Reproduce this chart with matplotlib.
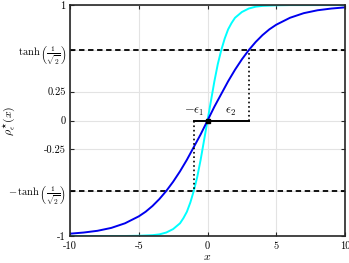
import matplotlib
matplotlib.use("Agg")
import matplotlib.pyplot as plt
import numpy as np

plt.rcParams["font.family"] = "cmr10"
plt.rcParams["mathtext.fontset"] = "cm"
plt.rcParams["axes.unicode_minus"] = False
plt.rcParams["axes.formatter.use_mathtext"] = True

# values
blue_x = [-10, -9, -8, -7, -6, -5, -4.5, -4, -3.5, -3, -2.5, -2, -1.5, -1, -0.5,
          0, 0.5, 1, 1.5, 2, 2.5, 3, 3.5, 4, 4.5, 5, 6, 7, 8, 9, 10]
blue_y = [-0.98, -0.97, -0.955, -0.93, -0.89, -0.83, -0.79, -0.74, -0.68, -0.61, -0.53, -0.44, -0.34, -0.23, -0.12,
          0, 0.12, 0.23, 0.34, 0.44, 0.53, 0.61, 0.68, 0.74, 0.79, 0.83, 0.89, 0.93, 0.955, 0.97, 0.98]

cyan_x = [-10, -8, -6, -5, -4, -3.5, -3, -2.5, -2, -1.75, -1.5, -1.25, -1, -0.75, -0.5, -0.25,
          0, 0.25, 0.5, 0.75, 1, 1.25, 1.5, 1.75, 2, 2.5, 3, 3.5, 4, 5, 6, 8, 10]
cyan_y = [-1.0, -1.0, -1.0, -0.998, -0.993, -0.986, -0.97, -0.94, -0.89, -0.845, -0.79, -0.71, -0.61, -0.49, -0.34, -0.17,
          0, 0.17, 0.34, 0.49, 0.61, 0.71, 0.79, 0.845, 0.89, 0.94, 0.97, 0.986, 0.993, 0.998, 1.0, 1.0, 1.0]

level = 0.6089  # tanh(1/sqrt(2))
eps1 = 1.0
eps2 = 3.0

x_ticks = [-10, -5, 0, 5, 10]
x_labels = ["-10", "-5", "0", "5", "10"]
y_ticks = [-1, -level, -0.25, 0, 0.25, level, 1]
y_labels = ["-1", r"$-\,\tanh\left(\frac{1}{\sqrt{2}}\right)$", "-0.25", "0", "0.25",
            r"$\tanh\left(\frac{1}{\sqrt{2}}\right)$", "1"]

fig = plt.figure(figsize=(3.49, 2.63), dpi=100)
ax = fig.add_axes([0.2006, 0.1027, 0.788, 0.878])

ax.grid(True, color="#e3e3e3", lw=0.8)
ax.set_axisbelow(True)

ax.axhline(level, color="k", ls=(0, (3, 2)), lw=1.3)
ax.axhline(-level, color="k", ls=(0, (3, 2)), lw=1.3)

ax.plot(cyan_x, cyan_y, color="cyan", lw=1.4)
ax.plot(blue_x, blue_y, color="#0000ee", lw=1.4)

ax.plot([-eps1, eps2], [0, 0], color="k", lw=1.4)
ax.plot([-eps1, -eps1], [0, -level], color="k", ls=":", lw=1.2)
ax.plot([eps2, eps2], [0, level], color="k", ls=":", lw=1.2)
ax.plot([0], [0], "ks", ms=2.2)

ax.text(-0.95, 0.025, r"$-\epsilon_1$", ha="center", va="bottom", fontsize=9)
ax.text(1.7, 0.025, r"$\epsilon_2$", ha="center", va="bottom", fontsize=9)

ax.set_xlim(-10, 10)
ax.set_ylim(-1, 1)
ax.set_xticks(x_ticks)
ax.set_xticklabels(x_labels)
ax.set_yticks(y_ticks)
ax.set_yticklabels(y_labels)
ax.tick_params(direction="in", length=3, width=0.8, labelsize=7.5,
               top=True, right=True, color="#262626")
ax.tick_params(axis="x", pad=4)
ax.tick_params(axis="y", pad=3)
for s in ax.spines.values():
    s.set_color("#262626")
    s.set_linewidth(1.2)

ax.set_xlabel(r"$x$", fontsize=8.5, labelpad=1)
fig.text(9 / 349, 142 / 263, r"$\rho_{\epsilon}^{\star}(x)$", fontsize=8.5,
         rotation=90, ha="center", va="center")

fig.savefig("out.png", dpi=100)
